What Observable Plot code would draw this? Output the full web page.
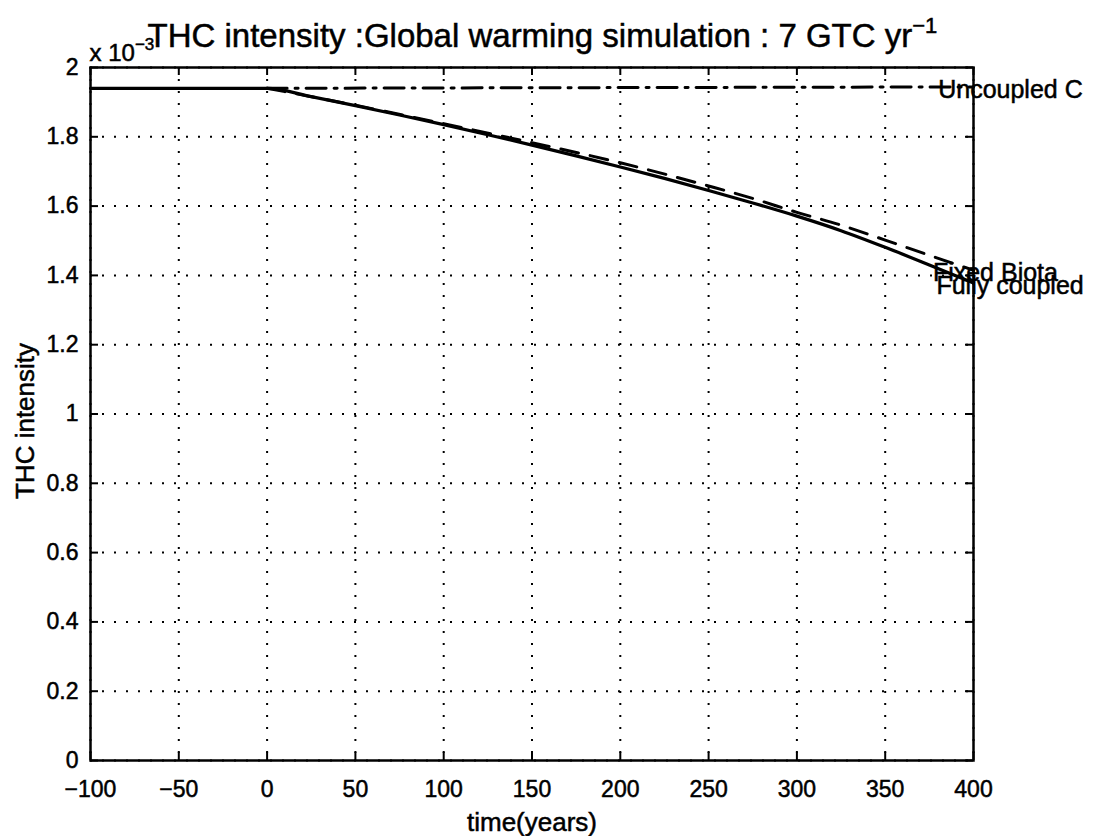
<!DOCTYPE html>
<html>
<head>
<meta charset="utf-8">
<script src="https://cdn.jsdelivr.net/npm/d3@7"></script>
<script src="https://cdn.jsdelivr.net/npm/@observablehq/plot@0.6"></script>
<style>
  body { margin: 0; background: #fff; }
  svg { display: block; }
</style>
</head>
<body>
<div id="chart"></div>
<script>
// THC intensity (units of 10^-3) under a 7 GtC/yr global warming scenario
const fullyYears     = [-100, 0, 25, 50, 75, 100, 125, 150, 175, 200, 225, 250, 275, 300, 325, 350, 375, 400];
const fullyCoupled   = [1.940, 1.940, 1.916, 1.890, 1.863, 1.835, 1.806, 1.776, 1.745, 1.713, 1.680, 1.645, 1.609, 1.571, 1.529, 1.481, 1.430, 1.378];

const fixedYears     = [0, 50, 100, 150, 200, 250, 275, 300, 325, 350, 375, 400];
const fixedBiota     = [1.940, 1.891, 1.838, 1.783, 1.725, 1.658, 1.622, 1.582, 1.545, 1.502, 1.458, 1.415];

const uncoupledYears = [0, 100, 200, 300, 400];
const uncoupledC     = [1.940, 1.941, 1.942, 1.943, 1.944];

const xTicks = [-100, -50, 0, 50, 100, 150, 200, 250, 300, 350, 400];
const yTicks = [0, 0.2, 0.4, 0.6, 0.8, 1, 1.2, 1.4, 1.6, 1.8, 2];

// end-of-line annotations (data coordinates)
const labelNames = ["Uncoupled C", "Fixed Biota", "Fully coupled"];
const labelX     = [380, 377, 379];
const labelY     = [1.935, 1.407, 1.370];

const titleText = "THC intensity :Global warming simulation : 7 GTC yr";
const xLabel = "time(years)";
const yLabel = "THC intensity";

const toRows = (xs, ys) => xs.map((x, i) => ({x, y: ys[i]}));
const fullyRows = toRows(fullyYears, fullyCoupled);
const fixedRows = toRows(fixedYears, fixedBiota);
const uncoupledRows = toRows(uncoupledYears, uncoupledC);
const labelRows = labelNames.map((name, i) => ({name, x: labelX[i], y: labelY[i]}));

const W = 1099, H = 836;
const mLeft = 90, mRight = 126, mTop = 67, mBottom = 76;
const plotW = W - mLeft - mRight, plotH = H - mTop - mBottom;
const tickLen = 8;
const font = "'Liberation Sans', Arial, Helvetica, sans-serif";

const chart = Plot.plot({
  width: W,
  height: H,
  marginLeft: mLeft,
  marginRight: mRight,
  marginTop: mTop,
  marginBottom: mBottom,
  style: {fontFamily: font, color: "black", background: "white", overflow: "visible"},
  x: {domain: [-100, 400]},
  y: {domain: [0, 2]},
  marks: [
    // dotted grid
    Plot.ruleX(xTicks, {stroke: "black", strokeWidth: 2, strokeDasharray: "2,10"}),
    Plot.ruleY(yTicks, {stroke: "black", strokeWidth: 2, strokeDasharray: "2,10"}),
    // inward tick marks on all four sides
    Plot.ruleX(xTicks, {stroke: "black", strokeWidth: 2, insetTop: plotH - tickLen}),
    Plot.ruleX(xTicks, {stroke: "black", strokeWidth: 2, insetBottom: plotH - tickLen}),
    Plot.ruleY(yTicks, {stroke: "black", strokeWidth: 2, insetRight: plotW - tickLen}),
    Plot.ruleY(yTicks, {stroke: "black", strokeWidth: 2, insetLeft: plotW - tickLen}),
    // series
    Plot.line(uncoupledRows, {x: "x", y: "y", stroke: "black", strokeWidth: 3, strokeDasharray: "20,8,3,8"}),
    Plot.line(fixedRows, {x: "x", y: "y", curve: "monotone-x", stroke: "black", strokeWidth: 3, strokeDasharray: "18,12"}),
    Plot.line(fullyRows, {x: "x", y: "y", curve: "monotone-x", stroke: "black", strokeWidth: 3.2}),
    Plot.frame({stroke: "black", strokeWidth: 2.5}),
    // tick labels
    Plot.axisX(xTicks, {tickSize: 0, tickPadding: 20, fontSize: 23, label: null}),
    Plot.axisY(yTicks, {tickSize: 0, tickPadding: 12, fontSize: 23, label: null,
      tickFormat: d => String(+d.toFixed(1))}),
    // line annotations
    Plot.text(labelRows, {x: "x", y: "y", text: "name", textAnchor: "start", lineAnchor: "middle", fontSize: 25, fill: "black"}),
    // axis titles
    Plot.text([xLabel], {frameAnchor: "bottom", dy: 70, textAnchor: "middle", lineAnchor: "bottom", fontSize: 26, fill: "black"}),
    Plot.text([yLabel], {frameAnchor: "left", dx: -57, dy: 7, rotate: -90, textAnchor: "middle", lineAnchor: "bottom", fontSize: 26, fill: "black"}),
    // exponent multiplier and title
    Plot.text(["x 10"], {frameAnchor: "top-left", dx: -1, dy: -7, textAnchor: "start", lineAnchor: "bottom", fontSize: 24, fill: "black"}),
    Plot.text([titleText], {frameAnchor: "top-left", dx: 57, dy: -21, textAnchor: "start", lineAnchor: "bottom", fontSize: 33, fill: "black"})
  ]
});

const svg = d3.select(chart);
// superscripts
svg.selectAll("text").filter(function () { return this.textContent === "x 10"; })
  .append("tspan").attr("dy", "-0.6em").attr("font-size", "17px").text("\u22123");
svg.selectAll("text").filter(function () { return this.textContent === titleText; })
  .append("tspan").attr("dy", "-0.6em").attr("font-size", "22px").text("\u22121");
// slightly heavier glyphs, as in the printed figure
svg.selectAll("text").attr("stroke", "black").attr("stroke-width", 0.5);

document.getElementById("chart").appendChild(chart);
</script>
</body>
</html>
